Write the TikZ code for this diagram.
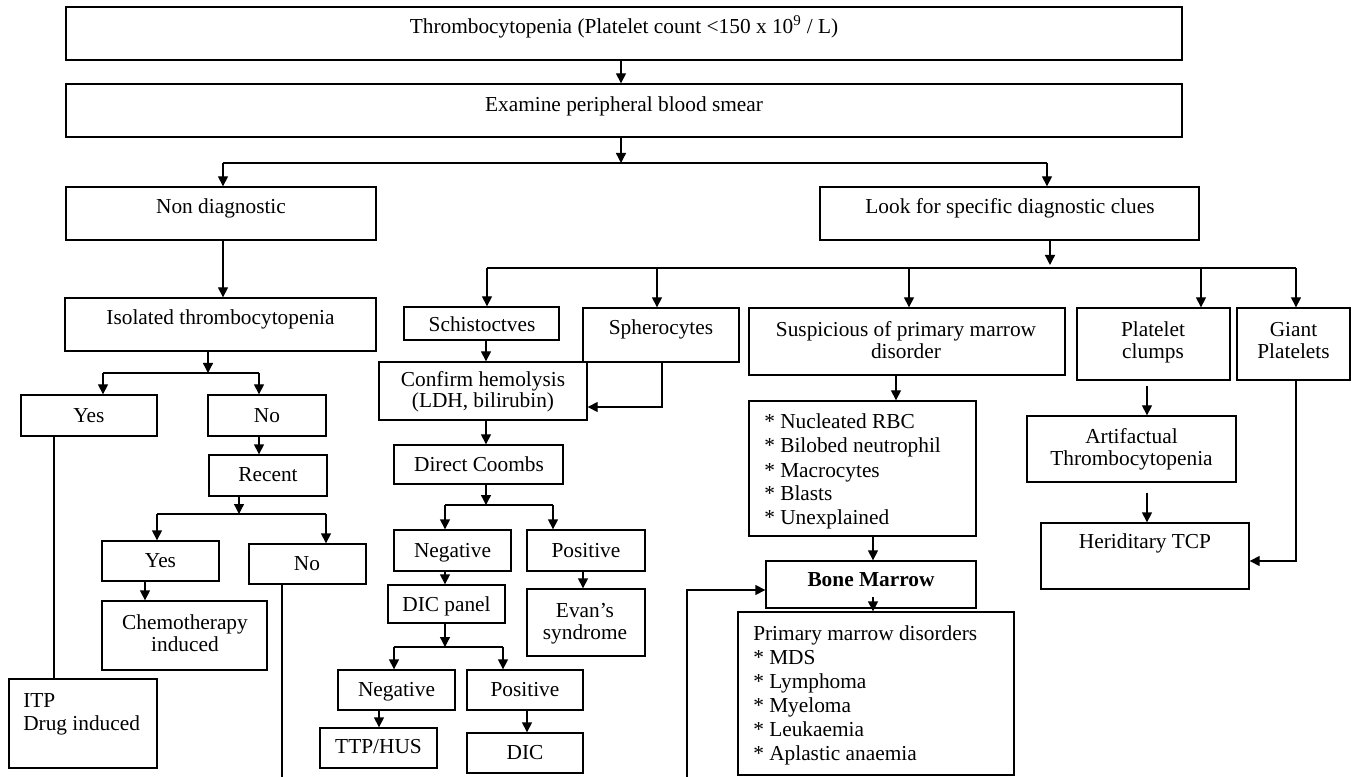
\documentclass[tikz,border=0pt]{standalone}
\usepackage{fontspec}
\setmainfont{Liberation Serif}
\usetikzlibrary{arrows.meta,fit}
\newcommand{\mlc}[1]{\begin{tabular}[t]{@{}c@{}}#1\end{tabular}}
\newcommand{\mll}[1]{\begin{tabular}[t]{@{}l@{}}#1\end{tabular}}
\newcommand{\bx}[5]{\node[box, fit={(#2,#3) (#4,#5)}] (#1) {};}
\tikzset{
  box/.style={draw=black, line width=1pt, fill=white, inner sep=0pt},
  txt/.style={inner sep=0pt, anchor=base, font=\fontsize{16}{18}\selectfont},
  ltxt/.style={txt, anchor=base west},
  arr/.style={line width=1pt, -{Triangle[length=7.5pt,width=7.5pt]}},
  ln/.style={line width=1pt},
}
\begin{document}
\begin{tikzpicture}[x=0.75pt,y=-0.75pt]
\useasboundingbox (0,0) rectangle (1354,777);
% boxes
\bx{top}{66}{7}{1182}{60}
\bx{exam}{66}{84}{1182}{137}
\bx{nondiag}{66}{187}{376}{240}
\bx{look}{820}{187}{1199}{240}
\bx{isolated}{65}{298}{376}{351}
\bx{yesA}{21}{395}{157}{436}
\bx{noA}{208}{395}{326}{436}
\bx{recent}{209}{455}{327}{496}
\bx{yesB}{102}{541}{219}{581}
\bx{noB}{249}{544}{366}{584}
\bx{chemo}{102}{601}{267}{670}
\bx{itp}{9}{679}{157}{768}
\bx{schisto}{404}{307}{559}{340}
\bx{sphero}{583}{308}{739}{362}
\bx{confirm}{379}{362}{587}{420}
\bx{coombs}{394}{445}{563}{484}
\bx{negA}{394}{530}{511}{571}
\bx{posA}{527}{530}{645}{571}
\bx{dicpanel}{388}{585}{505}{623}
\bx{evans}{527}{589}{645}{656}
\bx{negB}{338}{670}{455}{710}
\bx{posB}{467}{670}{583}{710}
\bx{ttp}{320}{728}{437}{768}
\bx{dic}{467}{733}{583}{773}
\bx{susp}{749}{308}{1065}{375}
\bx{clumps}{1077}{308}{1230}{380}
\bx{giant}{1237}{308}{1350}{380}
\bx{nucl}{749}{401}{976}{536}
\bx{bone}{766}{561}{976}{608}
\bx{primary}{738}{612}{1014}{775}
\bx{artif}{1027}{416}{1236}{482}
\bx{hered}{1041}{523}{1249}{589}
% texts
\node[txt] (t-top) at (624,34) {Thrombocytopenia (Platelet count <150 x 10\textsuperscript{9} / L)};
\node[txt] (t-exam) at (624,112) {Examine peripheral blood smear};
\node[txt] (t-nondiag) at (221,214) {Non diagnostic};
\node[txt] (t-look) at (1010,214) {Look for specific diagnostic clues};
\node[txt] (t-isolated) at (220.5,325) {Isolated thrombocytopenia};
\node[txt] (t-yesA) at (89,422) {Yes};
\node[txt] (t-noA) at (267,422) {No};
\node[txt] (t-recent) at (268,481) {Recent};
\node[txt] (t-yesB) at (160.5,567) {Yes};
\node[txt] (t-noB) at (307,570) {No};
\node[txt] (t-chemo) at (185,629) {\mlc{Chemotherapy\\[-1.5pt] induced}};
\node[ltxt] (t-itp) at (23,707) {\mll{ITP\\[-0.5pt] Drug induced}};
\node[txt] (t-schisto) at (482,332) {Schistoctves};
\node[txt] (t-sphero) at (661,335) {Spherocytes};
\node[txt] (t-confirm) at (483,387) {\mlc{Confirm hemolysis\\[-2.25pt] (LDH, bilirubin)}};
\node[txt] (t-coombs) at (479,471) {Direct Coombs};
\node[txt] (t-negA) at (452.5,557) {Negative};
\node[txt] (t-posA) at (586,557) {Positive};
\node[txt] (t-dicpanel) at (446.5,611) {DIC panel};
\node[txt] (t-evans) at (585,617) {\mlc{Evan’s\\[-1pt] syndrome}};
\node[txt] (t-negB) at (396.5,696) {Negative};
\node[txt] (t-posB) at (525,696) {Positive};
\node[txt] (t-ttp) at (378.5,753) {TTP/HUS};
\node[txt] (t-dic) at (525,759) {DIC};
\node[txt] (t-susp) at (906,337) {\mlc{Suspicious of primary marrow\\[-1.8pt] disorder}};
\node[txt] (t-clumps) at (1153,337) {\mlc{Platelet\\[-1.8pt] clumps}};
\node[txt] (t-giant) at (1293.5,337) {\mlc{Giant\\[-1.8pt] Platelets}};
\node[ltxt] (t-nucl) at (764,429) {\mll{{*} Nucleated RBC\\{*} Bilobed neutrophil\\{*} Macrocytes\\{*} Blasts\\{*} Unexplained}};
\node[txt] (t-bone) at (871,586) {\bfseries Bone Marrow};
\node[ltxt] (t-primary) at (753,640) {\mll{Primary marrow disorders\\{*} MDS\\{*} Lymphoma\\{*} Myeloma\\{*} Leukaemia\\{*} Aplastic anaemia}};
\node[txt] (t-artif) at (1131.5,443) {\mlc{Artifactual\\[-1pt] Thrombocytopenia}};
\node[txt] (t-hered) at (1145,548) {Heriditary TCP};
% helper coordinates
\coordinate (c1) at (621,163);
\coordinate (c1L) at (223,163);
\coordinate (c1R) at (1047,163);
\coordinate (c2) at (1050,265);
\coordinate (c2L) at (487,268);
\coordinate (c2R) at (1296,268);
\coordinate (d1) at (657,268);
\coordinate (d2) at (909,268);
\coordinate (d3) at (1201,268);
\coordinate (c3) at (208,373);
\coordinate (c3L) at (103,373);
\coordinate (c3R) at (259,373);
\coordinate (v1) at (54,0);
\coordinate (c5) at (239,514);
\coordinate (c5L) at (157,514);
\coordinate (c5R) at (326,514);
\coordinate (v2) at (145,0);
\coordinate (e1) at (282,777);
\coordinate (v3) at (486,0);
\coordinate (b1) at (662,407);
\coordinate (c6) at (486,505);
\coordinate (c6L) at (445,505);
\coordinate (c6R) at (553,505);
\coordinate (v4) at (583,0);
\coordinate (c7) at (445,647);
\coordinate (c7L) at (394,647);
\coordinate (c7R) at (503,647);
\coordinate (v5) at (379,0);
\coordinate (v6) at (527,0);
\coordinate (e2) at (687,777);
\coordinate (b2) at (687,590);
\coordinate (v7) at (896,0);
\coordinate (v8) at (873,0);
\coordinate (b3) at (873,597);
\coordinate (v9) at (1147,0);
\coordinate (b5) at (1296,561);
% connectors
\draw[arr] (top.south -| c1) -- (exam.north -| c1);
\draw[arr] (exam.south -| c1) -- (c1);
\draw[ln] (c1L) -- (c1R);
\draw[arr] (c1L) -- (c1L |- nondiag.north);
\draw[arr] (c1R) -- (c1R |- look.north);
\draw[arr] (nondiag.south -| c1L) -- (isolated.north -| c1L);
\draw[arr] (look.south -| c2) -- (c2);
\draw[ln] (c2L) -- (c2R);
\draw[arr] (c2L) -- (c2L |- schisto.north);
\draw[arr] (d1) -- (d1 |- sphero.north);
\draw[arr] (d2) -- (d2 |- susp.north);
\draw[arr] (d3) -- (d3 |- clumps.north);
\draw[arr] (c2R) -- (c2R |- giant.north);
\draw[arr] (isolated.south -| c3) -- (c3);
\draw[ln] (c3L) -- (c3R);
\draw[arr] (c3L) -- (c3L |- yesA.north);
\draw[arr] (c3R) -- (c3R |- noA.north);
\draw[ln] (yesA.south -| v1) -- (itp.north -| v1);
\draw[arr] (noA.south -| c3R) -- (recent.north -| c3R);
\draw[arr] (recent.south -| c5) -- (c5);
\draw[ln] (c5L) -- (c5R);
\draw[arr] (c5L) -- (c5L |- yesB.north);
\draw[arr] (c5R) -- (c5R |- noB.north);
\draw[arr] (yesB.south -| v2) -- (chemo.north -| v2);
\draw[ln] (noB.south -| e1) -- (e1);
\draw[arr] (schisto.south -| v3) -- (confirm.north -| v3);
\draw[arr] (sphero.south -| b1) -- (b1) -- (b1 -| confirm.east);
\draw[arr] (confirm.south -| v3) -- (coombs.north -| v3);
\draw[arr] (coombs.south -| c6) -- (c6);
\draw[ln] (c6L) -- (c6R);
\draw[arr] (c6L) -- (c6L |- negA.north);
\draw[arr] (c6R) -- (c6R |- posA.north);
\draw[arr] (negA.south -| c6L) -- (dicpanel.north -| c6L);
\draw[arr] (posA.south -| v4) -- (evans.north -| v4);
\draw[arr] (dicpanel.south -| c7) -- (c7);
\draw[ln] (c7L) -- (c7R);
\draw[arr] (c7L) -- (c7L |- negB.north);
\draw[arr] (c7R) -- (c7R |- posB.north);
\draw[arr] (negB.south -| v5) -- (ttp.north -| v5);
\draw[arr] (posB.south -| v6) -- (dic.north -| v6);
\draw[arr] (e2) -- (b2) -- (b2 -| bone.west);
\draw[arr] (susp.south -| v7) -- (nucl.north -| v7);
\draw[arr] (nucl.south -| v8) -- (bone.north -| v8);
\draw[arr] (b3) -- (primary.north -| b3);
\draw[arr, shorten <=3.75pt] (clumps.south -| v9) -- (artif.north -| v9);
\draw[arr, shorten <=7.5pt] (artif.south -| v9) -- (hered.north -| v9);
\draw[arr] (giant.south -| b5) -- (b5) -- (b5 -| hered.east);
\end{tikzpicture}
\end{document}
